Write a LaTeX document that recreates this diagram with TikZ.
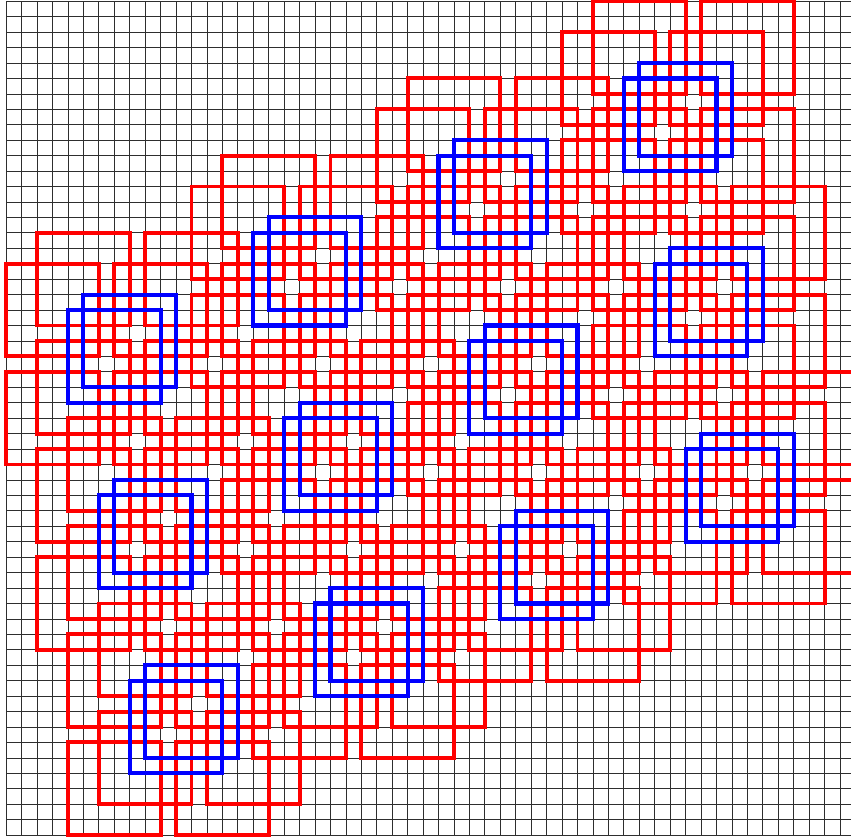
\documentclass[tikz,border=0pt]{standalone}
\usepackage{tikz}
\usetikzlibrary{calc}
\definecolor{GridInk}{HTML}{2E2E2E}
\definecolor{Cover}{HTML}{FF0000}
\definecolor{Tile}{HTML}{0000FF}
\tikzset{
 gridline/.style={draw=GridInk,line width=0.7pt},
 cover/.style={draw=Cover,line width=3.6pt},
 tile/.style={draw=Tile,line width=3.8pt}
}
\begin{document}
\begin{tikzpicture}[x=0.5cm,y=-0.5cm]
\useasboundingbox (-0.4,-0.08) rectangle (54.71,54.26);
\clip (-0.4,-0.08) rectangle (54.71,54.26);
\foreach \i in {0,...,55} \draw[gridline] (\i,0) -- (\i,54);
\foreach \j in {0,...,54} \draw[gridline] (0,\j) -- (55,\j);
\foreach \i in {0,...,3} \foreach \j in {0,...,2} {
  \pgfmathtruncatemacro\bx{4+12*\i+2*\j}
  \pgfmathtruncatemacro\by{19-5*\i+12*\j}
  \foreach \dx/\dy in {-4/-2,-2/-4,3/-2,5/-4,-4/5,-2/3,3/5,5/3}
    \draw[cover] (\bx+\dx,\by+\dy) rectangle +(6,6);
}
\foreach \i in {0,...,3} \foreach \j in {0,...,2} {
  \pgfmathtruncatemacro\bx{4+12*\i+2*\j}
  \pgfmathtruncatemacro\by{19-5*\i+12*\j}
  \draw[tile] (\bx+1,\by) rectangle +(6,6);
  \draw[tile] (\bx,\by+1) rectangle +(6,6);
}
\end{tikzpicture}
\end{document}
